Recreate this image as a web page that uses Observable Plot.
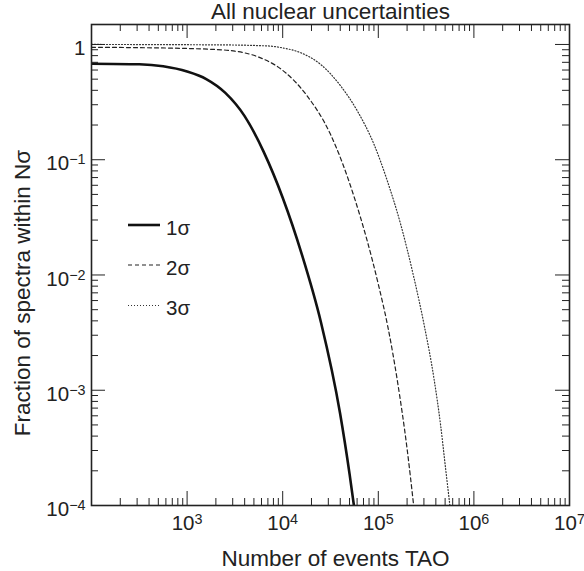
<!DOCTYPE html>
<html><head><meta charset="utf-8">
<script src="https://cdn.jsdelivr.net/npm/d3@7"></script>
<script src="https://cdn.jsdelivr.net/npm/@observablehq/plot@0.6"></script>
<style>
body{margin:0;background:#fff}
#chart{width:584px;height:571px}
</style>
</head><body><div id="chart"></div>
<script>
// ---- data ----
const title = "All nuclear uncertainties";
const xLabel = "Number of events TAO";
const yLabel = "Fraction of spectra within Nσ";
const seriesNames = ["1σ", "2σ", "3σ"];

const x1 = [100, 316, 562, 1000, 1585, 2512, 3981, 6310, 10000, 15850, 25120, 39810, 50120, 55590];
const y1 = [0.681, 0.673, 0.646, 0.582, 0.501, 0.380, 0.240, 0.1175, 0.0468, 0.0151, 0.00389, 0.000631, 0.000186, 0.0001];

const x2 = [100, 316, 1000, 1778, 3162, 5623, 10000, 17780, 31620, 56230, 100000, 125900, 158500, 199500, 234400];
const y2 = [0.945, 0.938, 0.923, 0.908, 0.875, 0.776, 0.596, 0.363, 0.166, 0.0468, 0.00832, 0.00355, 0.0012, 0.000316, 0.0001];

const x3 = [100, 1000, 3162, 5623, 7516, 10000, 15450, 25000, 40460, 60530, 90160, 124450, 171400, 236000, 300600, 381900, 448700, 505800, 561000];
const y3 = [1.0, 0.995, 0.989, 0.977, 0.967, 0.933, 0.847, 0.67, 0.436, 0.264, 0.136, 0.0653, 0.0275, 0.00946, 0.00374, 0.00127, 0.000497, 0.000209, 0.0001];

const xLabelTicks = [1e3, 1e4, 1e5, 1e6, 1e7];
const xTickLabels = ["10^3", "10^4", "10^5", "10^6", "10^7"];
const yLabelTicks = [1e-4, 1e-3, 1e-2, 1e-1, 1];
const yTickLabels = ["10^−4", "10^−3", "10^−2", "10^−1", "1"];
const xMajor = [1e2, 1e3, 1e4, 1e5, 1e6, 1e7];
const yMajor = [1e-4, 1e-3, 1e-2, 1e-1, 1];

// ---- layout / style ----
const W = 584, H = 571, mt = 24, mb = 66, ml = 91, mr = 15;
const fh = H - mt - mb, fw = W - ml - mr;
const ink = "#222";
const font = "'Liberation Sans', Arial, Helvetica, sans-serif";
const styles = [
  {stroke: "#111", strokeWidth: 2.6, dash: null},
  {stroke: "#222", strokeWidth: 1.2, dash: "4,3"},
  {stroke: "#333", strokeWidth: 1.2, dash: "1,2"}
];

const minorOf = (lo, hi) => {
  const out = [];
  for (let e = lo; e < hi; e++) for (let m = 2; m <= 9; m++) out.push(m * Math.pow(10, e));
  return out;
};
const xMinor = minorOf(2, 7);
const yMinor = minorOf(-4, 0);

const xs = [x1, x2, x3], ys = [y1, y2, y3];
const rows = [];
seriesNames.forEach((s, i) => xs[i].forEach((x, j) => rows.push({s, x, y: ys[i][j]})));

const lines = seriesNames.map((s, i) => Plot.line(rows.filter(r => r.s === s), {
  x: "x", y: "y", curve: "monotone-x", clip: true,
  stroke: styles[i].stroke, strokeWidth: styles[i].strokeWidth,
  strokeDasharray: styles[i].dash
}));

const chart = Plot.plot({
  width: W, height: H, marginTop: mt, marginBottom: mb, marginLeft: ml, marginRight: mr,
  style: {fontFamily: font, color: ink, background: "#fff", overflow: "visible"},
  x: {type: "log", domain: [1e2, 1e7], label: null},
  y: {type: "log", domain: [1e-4, 1.49], label: null},
  marks: [
    ...lines,
    Plot.ruleX(xMajor, {insetTop: fh - 14, stroke: ink}),
    Plot.ruleX(xMajor, {insetBottom: fh - 14, stroke: ink}),
    Plot.ruleX(xMinor, {insetTop: fh - 7, stroke: ink}),
    Plot.ruleX(xMinor, {insetBottom: fh - 7, stroke: ink}),
    Plot.ruleY(yMajor, {insetRight: fw - 14, stroke: ink}),
    Plot.ruleY(yMajor, {insetLeft: fw - 14, stroke: ink}),
    Plot.ruleY(yMinor, {insetRight: fw - 7, stroke: ink}),
    Plot.ruleY(yMinor, {insetLeft: fw - 7, stroke: ink}),
    Plot.frame({stroke: ink, strokeWidth: 1.6}),
    Plot.axisX(xLabelTicks, {tickSize: 0, tickPadding: 10, fontSize: 20.5, label: null,
      tickFormat: d => xTickLabels[xLabelTicks.indexOf(d)]}),
    Plot.axisY(yLabelTicks, {tickSize: 0, tickPadding: 6, fontSize: 20.5, label: null, dy: 4,
      tickFormat: d => yTickLabels[yLabelTicks.indexOf(d)]}),
    Plot.text([title], {text: d => d, frameAnchor: "top", textAnchor: "middle", dy: -13, fontSize: 22.5, lineAnchor: "middle"}),
    Plot.text([xLabel], {text: d => d, frameAnchor: "bottom", textAnchor: "middle", dx: 5, dy: 53, fontSize: 22.5, lineAnchor: "middle"}),
    Plot.text([yLabel], {text: d => d, frameAnchor: "left", textAnchor: "middle", dx: -69, dy: 28, rotate: -90, fontSize: 22.5, lineAnchor: "middle"})
  ]
});

// superscripts on tick labels
d3.select(chart).selectAll('g[aria-label="x-axis tick label"] text, g[aria-label="y-axis tick label"] text').each(function() {
  const t = this.textContent;
  const parts = t.split("^");
  if (parts.length < 2) return;
  const sel = d3.select(this);
  sel.text(parts[0]);
  sel.append("tspan").attr("dy", "-0.42em").attr("font-size", "0.7em").text(parts[1]);
});

// legend inside the frame
const legendY = [201, 241, 281.5];
const lg = d3.select(chart).append("g")
  .attr("font-family", font).attr("font-size", 20.5).attr("fill", ink).attr("text-anchor", "start");
seriesNames.forEach((s, i) => {
  lg.append("line").attr("x1", ml + 37).attr("x2", ml + 69)
    .attr("y1", mt + legendY[i]).attr("y2", mt + legendY[i])
    .attr("stroke", styles[i].stroke).attr("stroke-width", styles[i].strokeWidth)
    .attr("stroke-dasharray", styles[i].dash);
  lg.append("text").attr("x", ml + 75).attr("y", mt + legendY[i] + 9.5).attr("text-anchor", "start").text(s);
});

document.getElementById("chart").appendChild(chart);
</script>
</body></html>
